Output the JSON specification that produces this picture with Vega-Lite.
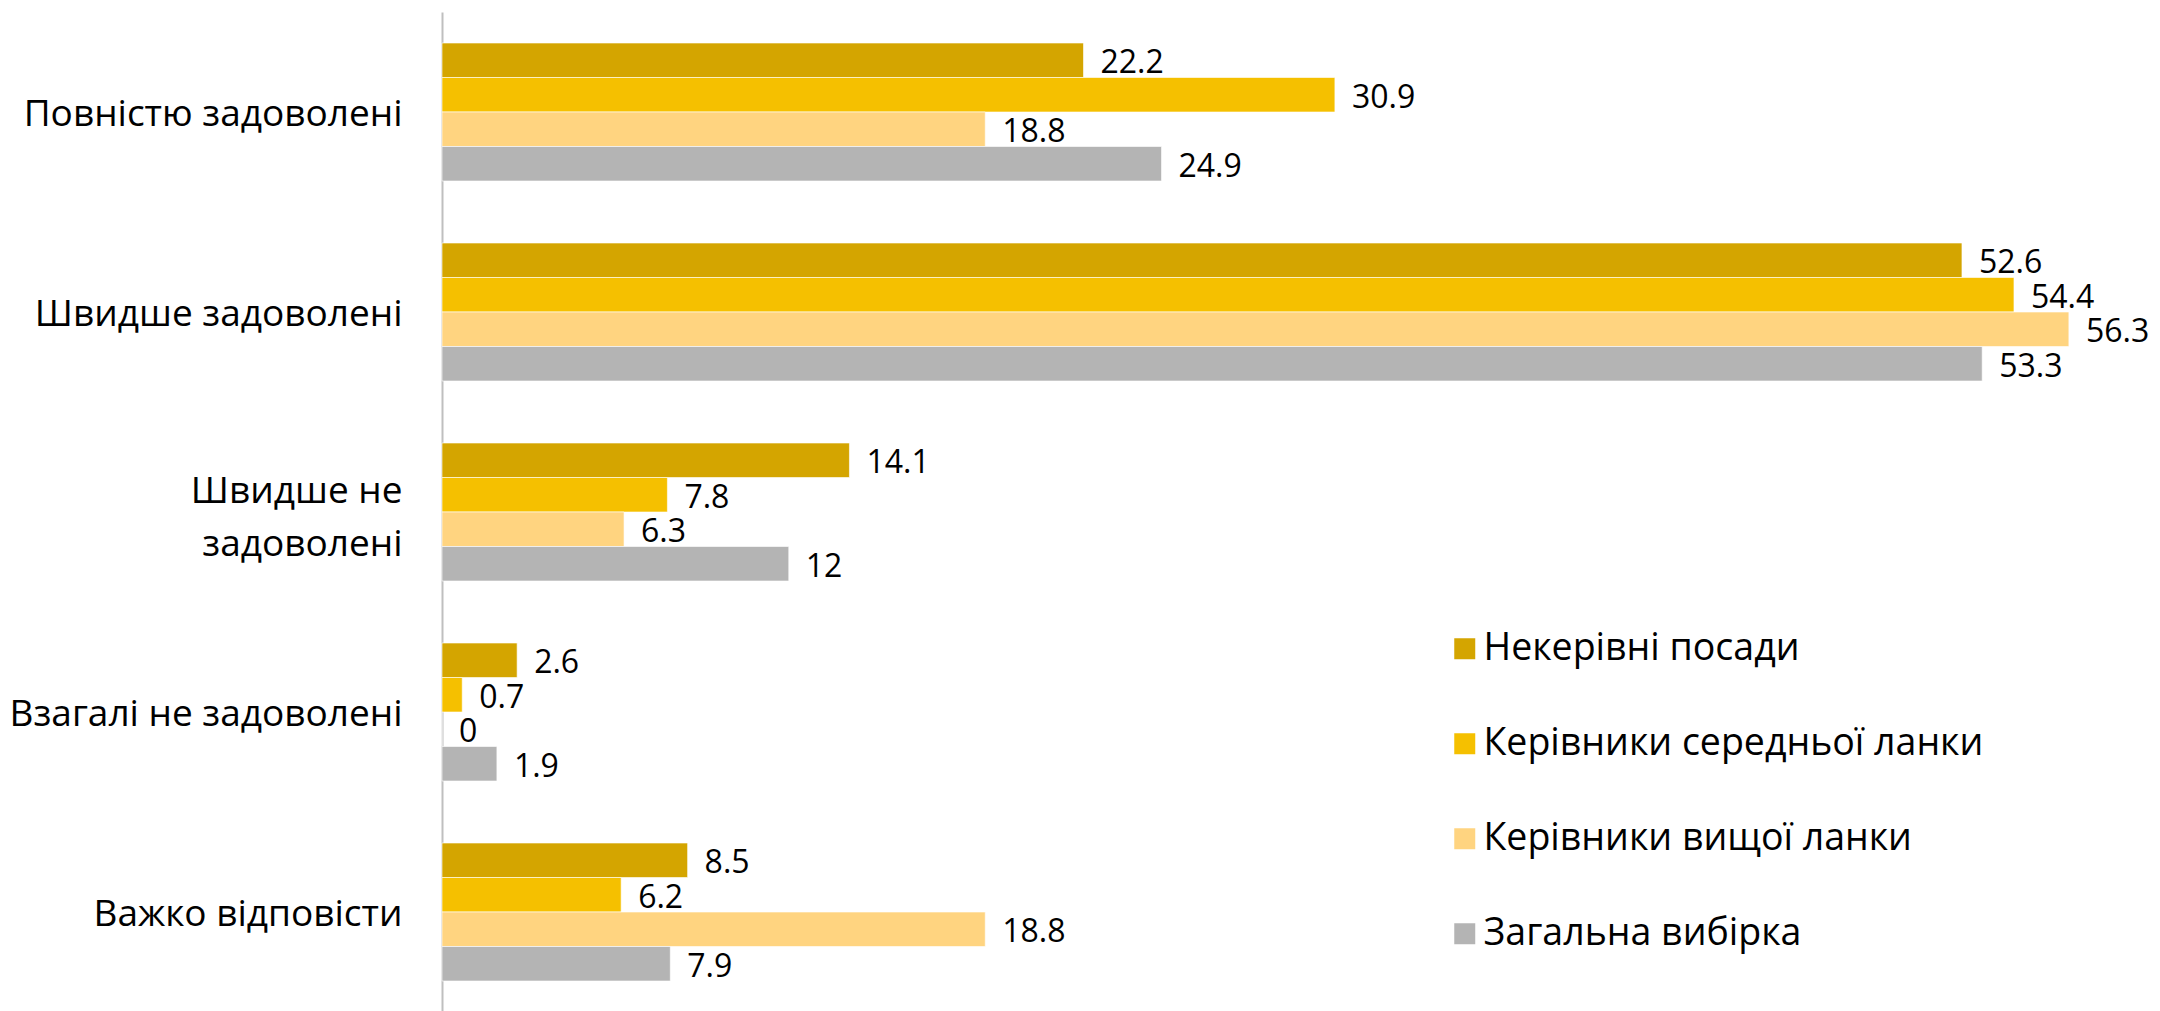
{
  "$schema": "https://vega.github.io/schema/vega-lite/v6.json",
  "autosize": {"type": "none"},
  "padding": {"left": 442, "top": 12, "right": 42, "bottom": 0},
  "width": 1676,
  "height": 1000,
  "background": "#ffffff",
  "config": {"view": {"stroke": null}, "font": "Open Sans"},
  "data": {
    "values": [
      {"category": "Повністю задоволені", "group": "Некерівні посади", "value": 22.2},
      {"category": "Повністю задоволені", "group": "Керівники середньої ланки", "value": 30.9},
      {"category": "Повністю задоволені", "group": "Керівники вищої ланки", "value": 18.8},
      {"category": "Повністю задоволені", "group": "Загальна вибірка", "value": 24.9},
      {"category": "Швидше задоволені", "group": "Некерівні посади", "value": 52.6},
      {"category": "Швидше задоволені", "group": "Керівники середньої ланки", "value": 54.4},
      {"category": "Швидше задоволені", "group": "Керівники вищої ланки", "value": 56.3},
      {"category": "Швидше задоволені", "group": "Загальна вибірка", "value": 53.3},
      {"category": "Швидше не|задоволені ", "group": "Некерівні посади", "value": 14.1},
      {"category": "Швидше не|задоволені ", "group": "Керівники середньої ланки", "value": 7.8},
      {"category": "Швидше не|задоволені ", "group": "Керівники вищої ланки", "value": 6.3},
      {"category": "Швидше не|задоволені ", "group": "Загальна вибірка", "value": 12},
      {"category": "Взагалі не задоволені", "group": "Некерівні посади", "value": 2.6},
      {"category": "Взагалі не задоволені", "group": "Керівники середньої ланки", "value": 0.7},
      {"category": "Взагалі не задоволені", "group": "Керівники вищої ланки", "value": 0},
      {"category": "Взагалі не задоволені", "group": "Загальна вибірка", "value": 1.9},
      {"category": "Важко відповісти", "group": "Некерівні посади", "value": 8.5},
      {"category": "Важко відповісти", "group": "Керівники середньої ланки", "value": 6.2},
      {"category": "Важко відповісти", "group": "Керівники вищої ланки", "value": 18.8},
      {"category": "Важко відповісти", "group": "Загальна вибірка", "value": 7.9}
    ]
  },
  "encoding": {
    "y": {
      "field": "category",
      "type": "nominal",
      "sort": ["Повністю задоволені", "Швидше задоволені", "Швидше не|задоволені ", "Взагалі не задоволені", "Важко відповісти"],
      "scale": {"paddingInner": 0.31, "paddingOuter": 0.155},
      "axis": {
        "title": null,
        "ticks": false,
        "domainColor": "#BFBFBF",
        "domainWidth": 2,
        "labelFont": "Open Sans",
        "labelFontSize": 37,
        "labelColor": "#000000",
        "labelPadding": 40,
        "labelLineHeight": 53,
        "labelLimit": 0,
        "labelOffset": {"condition": {"test": "indexof(datum.value, '|') >= 0", "value": -20}, "value": 3},
        "labelExpr": "split(datum.label, '|')"
      }
    },
    "yOffset": {
      "field": "group",
      "type": "nominal",
      "sort": ["Некерівні посади", "Керівники середньої ланки", "Керівники вищої ланки", "Загальна вибірка"],
      "scale": {"paddingInner": 0, "paddingOuter": 0}
    },
    "x": {
      "field": "value",
      "type": "quantitative",
      "scale": {"domain": [0, 58], "nice": false},
      "axis": null
    }
  },
  "layer": [
    {
      "mark": {"type": "bar", "stroke": "#ffffff", "strokeWidth": 1, "strokeOpacity": 0.6},
      "encoding": {
        "color": {
          "field": "group",
          "type": "nominal",
          "scale": {
            "domain": ["Некерівні посади", "Керівники середньої ланки", "Керівники вищої ланки", "Загальна вибірка"],
            "range": ["#D4A500", "#F5C000", "#FFD480", "#B4B4B4"]
          },
          "legend": {
            "title": null,
            "orient": "none",
            "legendX": 1004,
            "legendY": 618,
            "symbolType": "square",
            "symbolSize": 441,
            "symbolStrokeWidth": 0,
            "labelFont": "Open Sans",
            "labelFontSize": 37.5,
            "labelColor": "#000000",
            "labelOffset": 0,
            "labelLimit": 0,
            "rowPadding": 56
          }
        }
      }
    },
    {
      "mark": {"type": "text", "align": "left", "baseline": "middle", "dx": 17, "dy": 3, "fontSize": 32, "font": "Open Sans", "color": "#000000"},
      "encoding": {
        "text": {"field": "value", "type": "quantitative"}
      }
    }
  ]
}
